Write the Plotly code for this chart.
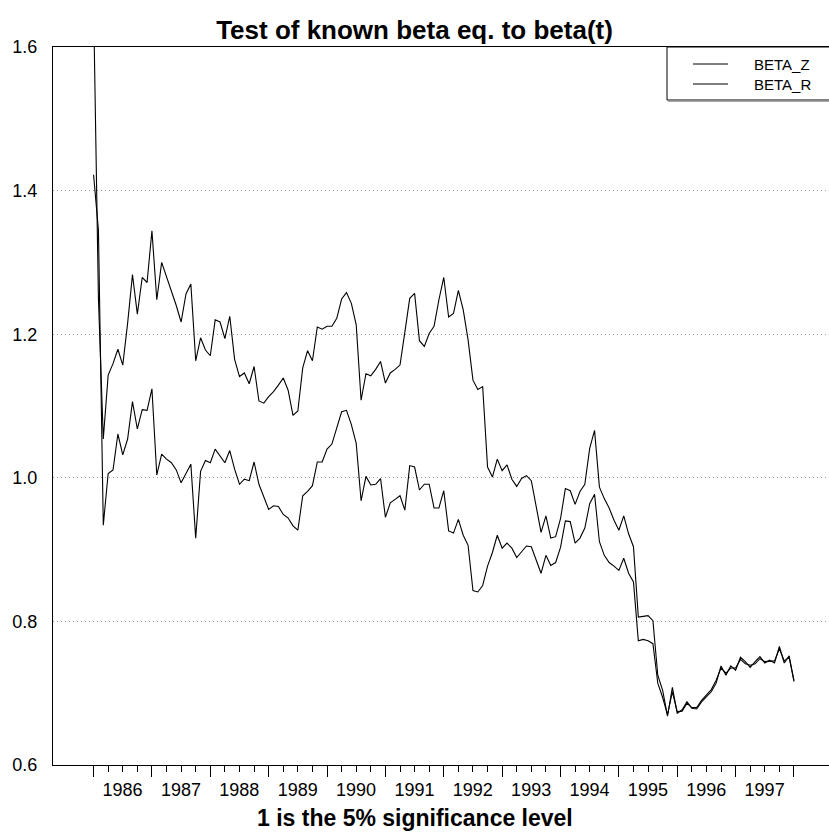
import plotly.graph_objects as go

# ---- data (monthly, Jan 1986 .. Jan 1998) ----
start_year = 1986
beta_z = [1.66, 1.25, 1.054, 1.143, 1.159, 1.179, 1.157, 1.215, 1.283, 1.228,
          1.279, 1.272, 1.344, 1.248, 1.300, 1.280, 1.262, 1.240, 1.217, 1.256,
          1.270, 1.163, 1.195, 1.178, 1.170, 1.220, 1.217, 1.194, 1.225, 1.165,
          1.141, 1.146, 1.131, 1.155, 1.107, 1.104, 1.113, 1.120, 1.129, 1.139,
          1.122, 1.087, 1.093, 1.153, 1.177, 1.163, 1.210, 1.207, 1.211, 1.211,
          1.222, 1.249, 1.258, 1.243, 1.213, 1.108, 1.145, 1.142, 1.151, 1.162,
          1.132, 1.146, 1.151, 1.157, 1.203, 1.250, 1.257, 1.191, 1.183, 1.201,
          1.211, 1.248, 1.279, 1.224, 1.229, 1.261, 1.234, 1.192, 1.136, 1.123,
          1.127, 1.015, 1.001, 1.026, 1.010, 1.018, 0.998, 0.988, 0.999, 1.003,
          0.996, 0.960, 0.924, 0.947, 0.916, 0.918, 0.943, 0.985, 0.982, 0.963,
          0.981, 0.991, 1.041, 1.066, 0.987, 0.971, 0.958, 0.941, 0.927, 0.947,
          0.922, 0.904, 0.806, 0.807, 0.808, 0.801, 0.725, 0.704, 0.668, 0.708,
          0.672, 0.677, 0.688, 0.679, 0.678, 0.688, 0.695, 0.702, 0.714, 0.738,
          0.725, 0.738, 0.732, 0.750, 0.744, 0.736, 0.744, 0.751, 0.742, 0.746,
          0.742, 0.765, 0.742, 0.752, 0.716]
beta_r = [1.422, 1.345, 0.934, 1.006, 1.011, 1.061, 1.032, 1.054, 1.106, 1.068,
          1.095, 1.094, 1.124, 1.004, 1.033, 1.026, 1.021, 1.011, 0.993, 1.005,
          1.019, 0.916, 1.009, 1.024, 1.021, 1.040, 1.030, 1.021, 1.038, 1.012,
          0.991, 0.998, 0.996, 1.022, 0.991, 0.974, 0.956, 0.961, 0.960, 0.949,
          0.944, 0.933, 0.927, 0.975, 0.981, 0.989, 1.022, 1.022, 1.040, 1.047,
          1.068, 1.092, 1.094, 1.074, 1.048, 0.968, 1.002, 0.990, 0.991, 0.999,
          0.945, 0.965, 0.970, 0.975, 0.955, 1.017, 1.015, 0.983, 0.991, 0.991,
          0.958, 0.958, 0.982, 0.926, 0.923, 0.942, 0.920, 0.906, 0.843, 0.841,
          0.850, 0.877, 0.896, 0.920, 0.902, 0.909, 0.902, 0.889, 0.897, 0.905,
          0.904, 0.886, 0.867, 0.892, 0.878, 0.882, 0.903, 0.940, 0.939, 0.909,
          0.916, 0.930, 0.964, 0.977, 0.911, 0.892, 0.882, 0.877, 0.871, 0.888,
          0.867, 0.855, 0.773, 0.775, 0.773, 0.769, 0.714, 0.694, 0.670, 0.702,
          0.674, 0.675, 0.686, 0.680, 0.680, 0.690, 0.697, 0.705, 0.718, 0.735,
          0.728, 0.735, 0.735, 0.747, 0.741, 0.739, 0.741, 0.748, 0.744, 0.744,
          0.745, 0.762, 0.745, 0.750, 0.718]
series_names = ["BETA_Z", "BETA_R"]
year_ticks = list(range(1986, 1999))
year_labels = [str(y) for y in range(1986, 1998)] + [""]
y_ticks = [0.6, 0.8, 1.0, 1.2, 1.4, 1.6]

# monthly time index in decimal years
t = [start_year + i / 12 for i in range(len(beta_z))]
quarter_ticks = [y + q / 4 for y in range(1986, 1998) for q in (1, 2, 3)]

W, H = 829, 833
ML, MR, MT, MB = 53, 0, 47, 68
FONT = "Liberation Sans, Arial, sans-serif"

fig = go.Figure()
for name, vals in zip(series_names, [beta_z, beta_r]):
    fig.add_trace(go.Scatter(x=t, y=vals, mode="lines", name=name,
                             line=dict(color="black", width=1.1),
                             showlegend=False))

fig.update_layout(
    width=W, height=H,
    margin=dict(l=ML, r=MR, t=MT, b=MB, pad=0),
    paper_bgcolor="white", plot_bgcolor="white",
    font=dict(family=FONT, color="black", size=18),
    title=dict(text="Test of known beta eq. to beta(t)",
               font=dict(family=FONT, size=26, weight="bold"),
               x=0.5, xanchor="center", xref="container",
               y=1 - 30 / H, yanchor="middle", yref="container"),
)

fig.update_xaxes(
    range=[1985.305, 1998.6],
    showline=True, linecolor="black", linewidth=1, mirror=True,
    showgrid=False, zeroline=False,
    tickmode="array", tickvals=year_ticks, ticktext=year_labels,
    ticks="outside", ticklen=11, tickcolor="black", tickwidth=1,
    ticklabelshift=29, ticklabelstandoff=-3,
    tickfont=dict(size=18),
    minor=dict(tickmode="array", tickvals=quarter_ticks, ticks="outside",
               ticklen=6, tickcolor="black", tickwidth=1, showgrid=False),
)
fig.update_yaxes(
    range=[0.6, 1.6],
    showline=True, linecolor="black", linewidth=1, mirror=False,
    zeroline=False,
    tickmode="array", tickvals=y_ticks, tickformat=".1f",
    ticks="", ticklabelstandoff=11,
    tickfont=dict(size=18),
    showgrid=True, gridcolor="#9a9a9a", gridwidth=1, griddash="1px,3px",
)

# helpers: window pixels -> paper coordinates
pw = W - ML - MR
ph = H - MT - MB
def px(xp):
    return (xp - ML) / pw
def py(yp):
    return (H - MB - yp) / ph

# x-axis caption, centred on the page like the reference
fig.add_annotation(text="1 is the 5% significance level", xref="paper", yref="paper",
                   x=px(W / 2), y=py(818), xanchor="center", yanchor="middle",
                   showarrow=False, font=dict(size=23, weight="bold", family=FONT))

# legend box
fig.add_shape(type="rect", xref="paper", yref="paper",
              x0=px(667), x1=px(832), y0=py(100), y1=py(47),
              line=dict(color="black", width=1), fillcolor="white", layer="above")
fig.add_shape(type="line", xref="paper", yref="paper",
              x0=px(668), x1=px(832), y0=py(101), y1=py(101),
              line=dict(color="#888888", width=1.5), layer="above")
for name, ypix in zip(series_names, [64, 84]):
    fig.add_shape(type="line", xref="paper", yref="paper",
                  x0=px(693), x1=px(728), y0=py(ypix), y1=py(ypix),
                  line=dict(color="black", width=1), layer="above")
    fig.add_annotation(text=name, xref="paper", yref="paper",
                       x=px(752), y=py(ypix + 1), xanchor="left", yanchor="middle",
                       showarrow=False, font=dict(size=15, family=FONT))

fig.write_html(
    "out.html",
    config={"displayModeBar": False},
    post_script="document.body.style.margin='0px';"
                "document.documentElement.style.overflow='hidden';",
)
